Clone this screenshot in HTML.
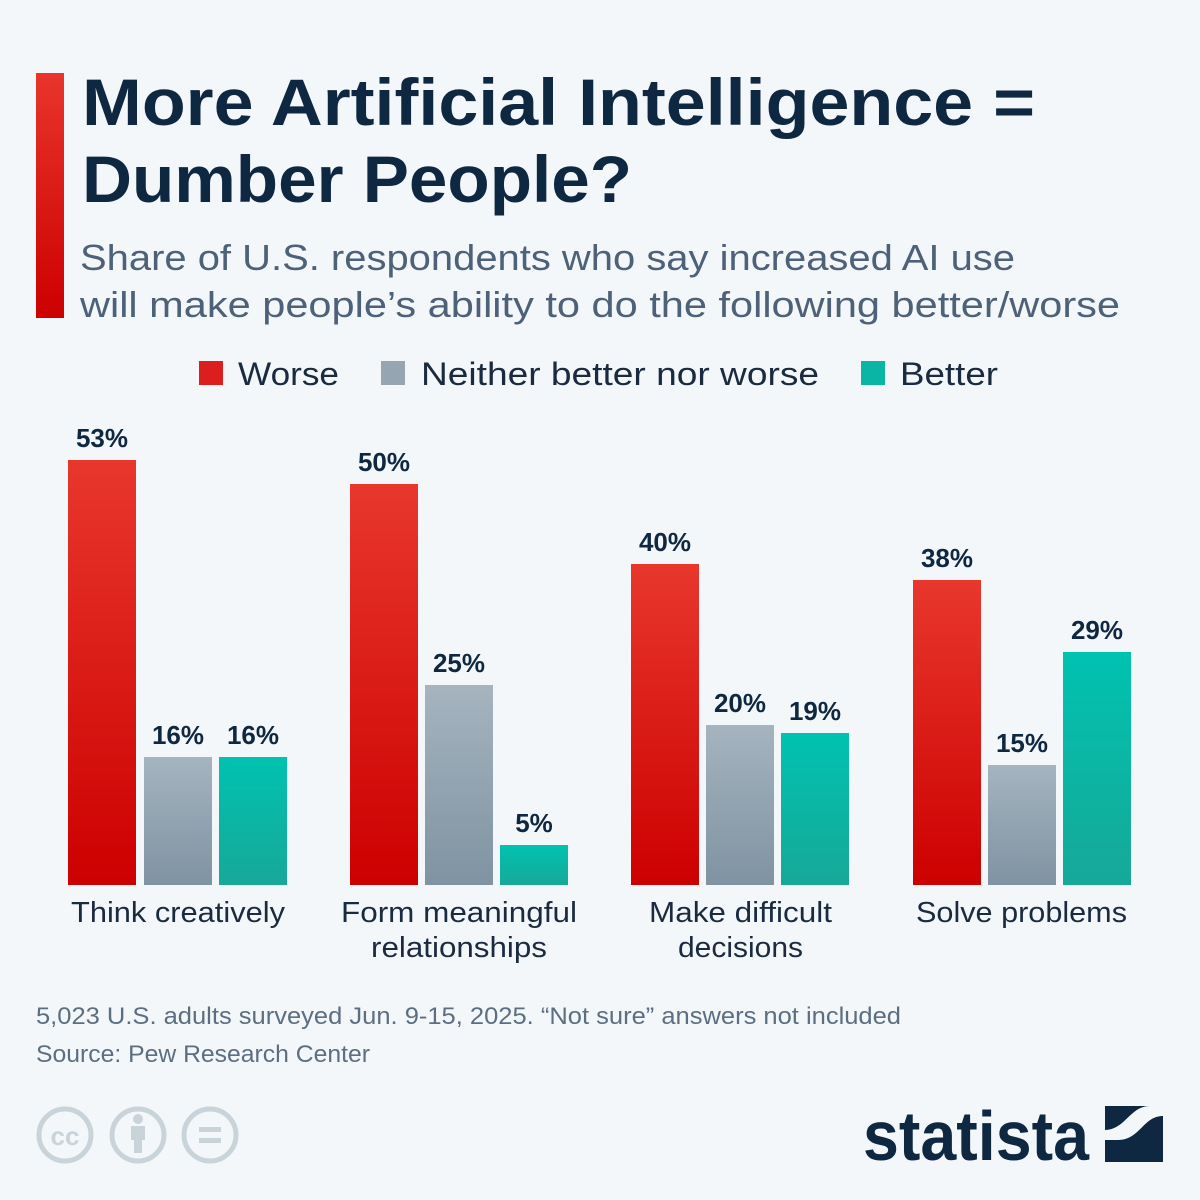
<!DOCTYPE html>
<html><head><meta charset="utf-8"><style>
body{margin:0;background:#f4f7fa;}
#c{position:relative;width:1200px;height:1200px;background:#f4f7fa;overflow:hidden}
</style></head><body><div id="c">
<div style="position:absolute;left:36px;top:73px;width:28px;height:245px;background:linear-gradient(#e8352c,#cc0000)"></div>
<svg width="1200" height="1200" style="position:absolute;left:0;top:0" font-family="Liberation Sans, DejaVu Sans, sans-serif">
<defs>
<linearGradient id="r" x1="0" y1="0" x2="0" y2="1"><stop offset="0" stop-color="#e8372d"/><stop offset="1" stop-color="#cc0000"/></linearGradient>
<linearGradient id="g" x1="0" y1="0" x2="0" y2="1"><stop offset="0" stop-color="#a5b4bf"/><stop offset="1" stop-color="#7f93a2"/></linearGradient>
<linearGradient id="b" x1="0" y1="0" x2="0" y2="1"><stop offset="0" stop-color="#00c2b0"/><stop offset="1" stop-color="#17a898"/></linearGradient>
</defs>
<g font-size="66" font-weight="bold" fill="#0f2842" lengthAdjust="spacingAndGlyphs">
<text x="82" y="125" textLength="953" lengthAdjust="spacingAndGlyphs">More Artificial Intelligence =</text>
<text x="82" y="202" textLength="550" lengthAdjust="spacingAndGlyphs">Dumber People?</text>
</g>
<g font-size="36" fill="#4d6178">
<text x="80" y="270" textLength="935" lengthAdjust="spacingAndGlyphs">Share of U.S. respondents who say increased AI use</text>
<text x="80" y="317" textLength="1040" lengthAdjust="spacingAndGlyphs">will make people’s ability to do the following better/worse</text>
</g>
<rect x="199" y="361" width="24" height="24" fill="#dd1e1e"/>
<text x="238" y="385" font-size="32" fill="#1a2b40" textLength="101" lengthAdjust="spacingAndGlyphs">Worse</text>
<rect x="381" y="361" width="24" height="24" fill="#95a6b2"/>
<text x="421" y="385" font-size="32" fill="#1a2b40" textLength="398" lengthAdjust="spacingAndGlyphs">Neither better nor worse</text>
<rect x="861" y="361" width="24" height="24" fill="#0bb5a5"/>
<text x="900" y="385" font-size="32" fill="#1a2b40" textLength="98" lengthAdjust="spacingAndGlyphs">Better</text>
<g font-size="26" font-weight="bold" fill="#0f2842" text-anchor="middle">
<rect x="68" y="460" width="68" height="425" fill="url(#r)"/><text x="102" y="447">53%</text>
<rect x="144" y="757" width="68" height="128" fill="url(#g)"/><text x="178" y="744">16%</text>
<rect x="219" y="757" width="68" height="128" fill="url(#b)"/><text x="253" y="744">16%</text>
<rect x="350" y="484" width="68" height="401" fill="url(#r)"/><text x="384" y="471">50%</text>
<rect x="425" y="685" width="68" height="200" fill="url(#g)"/><text x="459" y="672">25%</text>
<rect x="500" y="845" width="68" height="40" fill="url(#b)"/><text x="534" y="832">5%</text>
<rect x="631" y="564" width="68" height="321" fill="url(#r)"/><text x="665" y="551">40%</text>
<rect x="706" y="725" width="68" height="160" fill="url(#g)"/><text x="740" y="712">20%</text>
<rect x="781" y="733" width="68" height="152" fill="url(#b)"/><text x="815" y="720">19%</text>
<rect x="913" y="580" width="68" height="305" fill="url(#r)"/><text x="947" y="567">38%</text>
<rect x="988" y="765" width="68" height="120" fill="url(#g)"/><text x="1022" y="752">15%</text>
<rect x="1063" y="652" width="68" height="233" fill="url(#b)"/><text x="1097" y="639">29%</text>
</g>
<g font-size="29" fill="#1a2b40">
<text x="71" y="922" textLength="214" lengthAdjust="spacingAndGlyphs">Think creatively</text>
<text x="341" y="922" textLength="236" lengthAdjust="spacingAndGlyphs">Form meaningful</text>
<text x="371" y="957" textLength="176" lengthAdjust="spacingAndGlyphs">relationships</text>
<text x="649" y="922" textLength="183" lengthAdjust="spacingAndGlyphs">Make difficult</text>
<text x="678" y="957" textLength="125" lengthAdjust="spacingAndGlyphs">decisions</text>
<text x="916" y="922" textLength="211" lengthAdjust="spacingAndGlyphs">Solve problems</text>
</g>
<text x="36" y="1024" font-size="24" fill="#5c6f82" textLength="865" lengthAdjust="spacingAndGlyphs">5,023 U.S. adults surveyed Jun. 9-15, 2025. “Not sure” answers not included</text>
<text x="36" y="1062" font-size="24" fill="#5c6f82" textLength="334" lengthAdjust="spacingAndGlyphs">Source: Pew Research Center</text>
<g fill="none" stroke="#c9d3da" stroke-width="5">
<circle cx="65" cy="1135" r="26"/><circle cx="138" cy="1135" r="26"/><circle cx="210" cy="1135" r="26"/></g>
<text x="65" y="1145" font-size="26" font-weight="bold" fill="#c9d3da" text-anchor="middle">cc</text>
<circle cx="138" cy="1119" r="5" fill="#c9d3da"/><rect x="131" y="1126" width="14" height="14" fill="#c9d3da"/><rect x="134" y="1138" width="8" height="15" fill="#c9d3da"/>
<rect x="199" y="1127" width="22" height="5" fill="#c9d3da"/><rect x="199" y="1138" width="22" height="5" fill="#c9d3da"/>
<text x="863" y="1160" font-size="70" font-weight="bold" fill="#0f2842" textLength="226" lengthAdjust="spacingAndGlyphs">statista</text>
<rect x="1105" y="1106" width="58" height="56" fill="#0f2842"/>
<path d="M1105 1140 L1105 1130 C1125 1130 1130 1106 1150 1106 L1163 1106 L1163 1116 C1143 1116 1140 1140 1118 1140 Z" fill="#f4f7fa"/>
</svg>
</div></body></html>
